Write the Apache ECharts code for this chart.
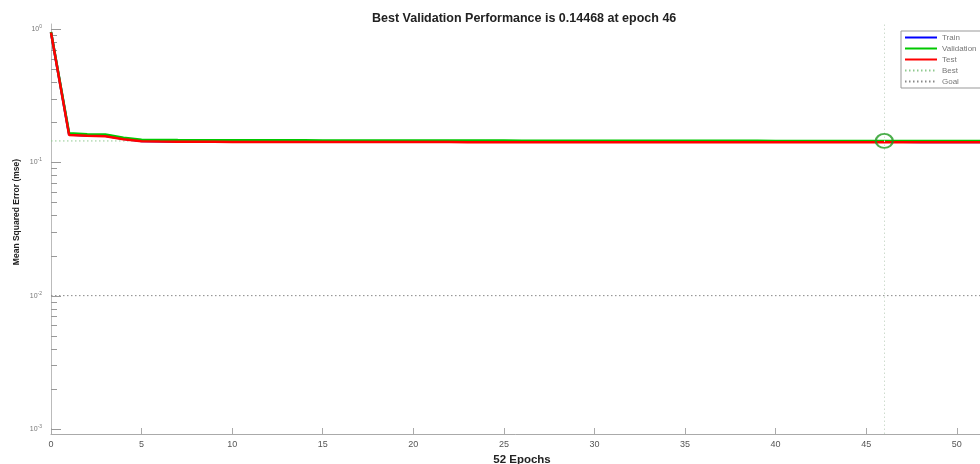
<!DOCTYPE html>
<html>
<head>
<meta charset="utf-8">
<script src="https://cdn.jsdelivr.net/npm/echarts@6.0.0/dist/echarts.min.js"></script>
<style>
  html, body { margin: 0; padding: 0; background: #fff; }
  #perfChart { width: 980px; height: 464px; }
</style>
</head>
<body>
<div id="perfChart"></div>
<script>
  // epochs 0..52
  let epochs = [0, 1, 2, 3, 4, 5, 6, 7, 8, 9, 10, 11, 12, 13, 14, 15, 16, 17, 18, 19, 20, 21, 22, 23, 24, 25,
    26, 27, 28, 29, 30, 31, 32, 33, 34, 35, 36, 37, 38, 39, 40, 41, 42, 43, 44, 45, 46, 47, 48, 49, 50, 51, 52]

  let trainPerf = [0.945, 0.162, 0.159, 0.158, 0.150, 0.1445, 0.1438, 0.1436, 0.1435, 0.1434, 0.1433, 0.1433, 0.1432,
    0.1432, 0.1431, 0.1431, 0.1430, 0.1430, 0.1430, 0.1429, 0.1429, 0.1429, 0.1428, 0.1428, 0.1428, 0.1428, 0.1427,
    0.1427, 0.1427, 0.1427, 0.1426, 0.1426, 0.1426, 0.1426, 0.1426, 0.1425, 0.1425, 0.1425, 0.1425, 0.1425, 0.1425,
    0.1424, 0.1424, 0.1424, 0.1424, 0.1424, 0.1424, 0.1424, 0.1423, 0.1423, 0.1423, 0.1423, 0.1423]

  let valPerf = [0.95, 0.165, 0.1625, 0.1615, 0.153, 0.1478, 0.1470, 0.1468, 0.1467, 0.1466, 0.1465, 0.1464, 0.1463,
    0.1462, 0.1462, 0.1461, 0.1460, 0.1460, 0.1459, 0.1458, 0.1458, 0.1457, 0.1456, 0.1456, 0.1455, 0.1455, 0.1454,
    0.1454, 0.1453, 0.1453, 0.1452, 0.1452, 0.1451, 0.1451, 0.1450, 0.1450, 0.1450, 0.1449, 0.1449, 0.1449, 0.1448,
    0.1448, 0.1448, 0.1447, 0.1447, 0.1447, 0.14468, 0.14470, 0.14472, 0.14475, 0.14478, 0.14480, 0.14483]

  let testPerf = [0.94, 0.160, 0.158, 0.157, 0.149, 0.1438, 0.1430, 0.1427, 0.1425, 0.1424, 0.1423, 0.1422, 0.1422,
    0.1421, 0.1421, 0.1420, 0.1420, 0.1419, 0.1419, 0.1419, 0.1418, 0.1418, 0.1418, 0.1417, 0.1417, 0.1417, 0.1416,
    0.1416, 0.1416, 0.1416, 0.1415, 0.1415, 0.1415, 0.1415, 0.1414, 0.1414, 0.1414, 0.1414, 0.1414, 0.1413, 0.1413,
    0.1413, 0.1413, 0.1413, 0.1413, 0.1412, 0.1412, 0.1412, 0.1412, 0.1412, 0.1412, 0.1412, 0.1412]

  let bestEpoch = 46
  let bestPerf = 0.14468
  let goalPerf = 0.01

  // y 轴刻度 (log)
  let yMajorTicks = [0.001, 0.01, 0.1, 1]
  let yMinorTicks = [0.002, 0.003, 0.004, 0.005, 0.006, 0.007, 0.008, 0.009,
    0.02, 0.03, 0.04, 0.05, 0.06, 0.07, 0.08, 0.09,
    0.2, 0.3, 0.4, 0.5, 0.6, 0.7, 0.8, 0.9]

  let font = 'Liberation Sans, Arial, sans-serif'
  let pairs = function (ys) { return epochs.map((e, i) => [e, ys[i]]) }

  let tickData = yMajorTicks.map(v => [0, v, 10]).concat(yMinorTicks.map(v => [0, v, 6]))

  let perfChart = echarts.init(document.getElementById('perfChart'))
  perfChart.setOption({
    animation: false,
    backgroundColor: '#fff',
    title: {
      text: 'Best Validation Performance is 0.14468 at epoch 46',
      left: 367,
      top: 7,
      textStyle: { fontFamily: font, fontSize: 12.5, fontWeight: 'bold', color: '#222' }
    },
    legend: {
      data: ['Train', 'Validation', 'Test', 'Best', 'Goal'],
      orient: 'vertical',
      left: 901,
      top: 31,
      padding: [2, 40, 2, 3],
      itemWidth: 32,
      itemHeight: 9,
      itemGap: 2,
      borderColor: '#999',
      borderWidth: 1,
      borderRadius: 0,
      backgroundColor: '#fff',
      itemStyle: { opacity: 0 },
      textStyle: { fontFamily: font, fontSize: 8, color: '#777', lineHeight: 9 }
    },
    grid: { left: 51, right: -13, top: 24, bottom: 30, outerBoundsMode: 'none' },
    xAxis: {
      type: 'value',
      min: 0,
      max: 52,
      interval: 5,
      name: '52 Epochs',
      nameLocation: 'middle',
      nameGap: 12,
      nameTextStyle: { fontFamily: font, fontSize: 11.5, fontWeight: 'bold', color: '#222' },
      axisLine: { lineStyle: { color: '#aaa' } },
      axisTick: { inside: true, length: 6, lineStyle: { color: '#aaa' } },
      axisLabel: { margin: 6, fontFamily: font, fontSize: 9, color: '#555' },
      splitLine: { show: false }
    },
    yAxis: {
      type: 'log',
      min: 0.000917,
      max: 1.0902,
      axisLine: { show: true, lineStyle: { color: '#bbb' } },
      axisTick: { show: false },
      splitLine: { show: false },
      minorTick: { show: false },
      axisLabel: {
        margin: 9,
        formatter: function (v) {
          let k = Math.log10(v)
          if (Math.abs(k - Math.round(k)) > 1e-6) return ''
          return '{b|10}{s|' + Math.round(k) + '}'
        },
        rich: {
          b: { fontFamily: font, fontSize: 7, color: '#777', lineHeight: 10 },
          s: { fontFamily: font, fontSize: 5, color: '#777', verticalAlign: 'top', lineHeight: 10 }
        }
      }
    },
    graphic: [{
      type: 'text',
      x: 17,
      y: 212,
      rotation: Math.PI / 2,
      style: {
        text: 'Mean Squared Error (mse)',
        fontFamily: font,
        fontSize: 8.5,
        fontWeight: 'bold',
        fill: '#222',
        align: 'center',
        verticalAlign: 'middle'
      }
    }],
    series: [{
      name: 'Train',
      type: 'line',
      data: pairs(trainPerf),
      symbol: 'none',
      color: '#0000ff',
      lineStyle: { width: 2.5, color: '#0000ff' }
    }, {
      name: 'Validation',
      type: 'line',
      data: pairs(valPerf),
      symbol: 'none',
      color: '#00c800',
      lineStyle: { width: 2.5, color: '#00c800' }
    }, {
      name: 'Test',
      type: 'line',
      data: pairs(testPerf),
      symbol: 'none',
      color: '#ff0000',
      lineStyle: { width: 2.5, color: '#ff0000' }
    }, {
      name: 'Best',
      type: 'line',
      data: [[0, bestPerf], [52, bestPerf]],
      symbol: 'none',
      z: 1,
      color: '#8fc98f',
      lineStyle: { width: 1, type: [1.5, 2.5], color: '#8fc98f' },
      markLine: {
        silent: true,
        symbol: 'none',
        label: { show: false },
        lineStyle: { width: 1, type: [1.5, 2.5], color: '#cfdccf' },
        data: [{ xAxis: bestEpoch }]
      }
    }, {
      name: 'Goal',
      type: 'line',
      data: [[0, goalPerf], [52, goalPerf]],
      symbol: 'none',
      z: 1,
      color: '#888',
      lineStyle: { width: 1, type: [1.5, 2.5], color: '#888' }
    }, {
      type: 'scatter',
      data: [[bestEpoch, bestPerf]],
      symbol: 'circle',
      symbolSize: [17, 14],
      z: 5,
      silent: true,
      itemStyle: { color: 'rgba(0,0,0,0)', borderColor: '#1e9a1e', borderWidth: 2 }
    }, {
      // y 轴刻度线 (朝内)
      type: 'custom',
      silent: true,
      clip: false,
      data: tickData,
      encode: { x: 0, y: 1 },
      renderItem: function (params, api) {
        let p = api.coord([api.value(0), api.value(1)])
        let len = api.value(2)
        return {
          type: 'line',
          shape: { x1: p[0], y1: Math.round(p[1]) + 0.5, x2: p[0] + len, y2: Math.round(p[1]) + 0.5 },
          style: { stroke: '#999', lineWidth: 1 }
        }
      }
    }]
  })
</script>
</body>
</html>
